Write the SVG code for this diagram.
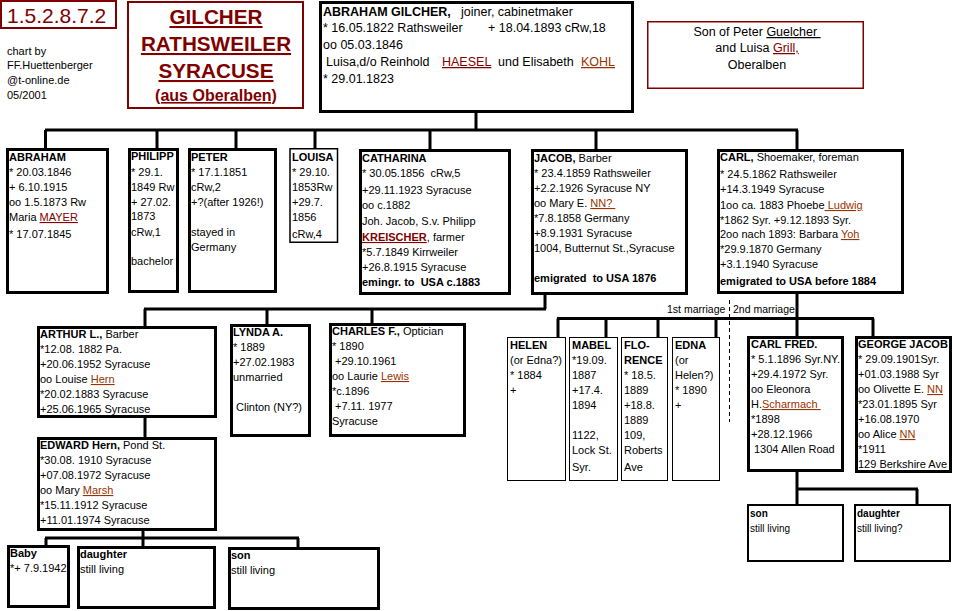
<svg xmlns="http://www.w3.org/2000/svg" width="953" height="611" viewBox="0 0 953 611">
<style>
text{font-family:"Liberation Sans",Arial,sans-serif;font-size:11px;fill:#000}
.b{font-weight:bold}
.m{font-size:12.5px}
.s{font-size:10px}
.dr{fill:#800000}
.or{fill:#993300;text-decoration:underline}
.u{text-decoration:underline}
.box{fill:#fff;stroke:#000;stroke-width:3}
.thin{fill:#fff;stroke:#000;stroke-width:1}
.rbox{fill:#fff;stroke:#800000;stroke-width:2}
.con{stroke:#000;stroke-width:3;fill:none}
.ttl{font-weight:bold;fill:#800000;text-decoration:underline;text-anchor:middle;font-size:20.7px}
</style>
<rect width="953" height="611" fill="#fff"/>

<g id="connectors">
<path class="con" d="M476,113V130M45,130H798M45.5,130V148M157,130V148M236,130V148M315,130V148M430,130V149M596,130V149M797,130V149"/>
<path class="con" d="M545,295V309M144,309H546M145,309V326M267,309V324M372,309V323M145,418V437"/>
<path class="con" d="M143,531V538M45,538H299M46,538V545M143,538V546M298,538V547"/>
<path class="con" d="M557,318.5H874M558,318.5V337M606,318.5V337M658,318.5V337M716,318.5V337M873,318.5V336M797,294V336"/>
<path class="con" d="M797,472V504M797,489H918M917,489V504"/>
<path d="M729.5,300V422" stroke="#000" stroke-width="1" stroke-dasharray="4,3" fill="none"/>
</g>

<g id="ref">
<rect x="1" y="1" width="115" height="27" fill="#fff" stroke="#800000" stroke-width="2"/>
<text x="7" y="23" class="dr" style="font-size:21px">1.5.2.8.7.2</text>
</g>

<g id="credit">
<text x="7" y="55">chart by</text>
<text x="7" y="69">FF.Huettenberger</text>
<text x="7" y="84">@t-online.de</text>
<text x="7" y="99">05/2001</text>
</g>

<g id="title">
<rect class="rbox" x="128" y="2" width="175" height="106"/>
<text x="216" y="24" class="ttl">GILCHER</text>
<text x="216" y="51" class="ttl">RATHSWEILER</text>
<text x="216" y="78" class="ttl">SYRACUSE</text>
<text x="216" y="101" class="ttl" style="font-size:16px">(aus Oberalben)</text>
</g>

<g id="abraham-gilcher">
<rect class="box" x="320.5" y="2.5" width="312" height="109"/>
<text x="323" y="16" class="m"><tspan class="b">ABRAHAM GILCHER,</tspan><tspan x="461">joiner, cabinetmaker</tspan></text>
<text x="323" y="32" class="m">* 16.05.1822 Rathsweiler<tspan x="488">+ 18.04.1893 cRw,18</tspan></text>
<text x="323" y="49" class="m">oo 05.03.1846</text>
<text x="326" y="66" class="m">Luisa,d/o Reinhold<tspan x="442" class="dr u">HAESEL</tspan><tspan x="498">und Elisabeth</tspan><tspan x="581" class="or">KOHL</tspan></text>
<text x="323" y="83" class="m">* 29.01.1823</text>
</g>

<g id="parents">
<rect x="647.75" y="21.75" width="215.5" height="66.5" fill="#fff" stroke="#800000" stroke-width="1.5"/>
<text x="757" y="36" class="m" text-anchor="middle" xml:space="preserve">Son of Peter <tspan class="u">Guelcher </tspan></text>
<text x="757" y="52" class="m" text-anchor="middle" xml:space="preserve">and Luisa <tspan class="dr u">Grill,</tspan></text>
<text x="757" y="69" class="m" text-anchor="middle">Oberalben</text>
</g>

<g id="abraham">
<rect class="box" x="7.5" y="149.5" width="100" height="143"/>
<text x="9" y="161" class="b">ABRAHAM</text>
<text x="9" y="176">* 20.03.1846</text>
<text x="9" y="191">+ 6.10.1915</text>
<text x="9" y="206">oo 1.5.1873 Rw</text>
<text x="9" y="221">Maria <tspan class="dr u">MAYER</tspan></text>
<text x="9" y="238">* 17.07.1845</text>
</g>

<g id="philipp">
<rect class="box" x="129.5" y="149.5" width="48" height="142"/>
<text x="131" y="160" class="b">PHILIPP</text>
<text x="131" y="176">* 29.1.</text>
<text x="131" y="191">1849 Rw</text>
<text x="131" y="206">+ 27.02.</text>
<text x="131" y="220">1873</text>
<text x="131" y="236">cRw,1</text>
<text x="131" y="265">bachelor</text>
</g>

<g id="peter">
<rect class="box" x="189.5" y="149.5" width="86" height="142"/>
<text x="191" y="161" class="b">PETER</text>
<text x="191" y="176">* 17.1.1851</text>
<text x="191" y="191">cRw,2</text>
<text x="191" y="206">+?(after 1926!)</text>
<text x="191" y="236">stayed in</text>
<text x="191" y="251">Germany</text>
</g>

<g id="louisa">
<rect x="290" y="148.75" width="47.5" height="93.5" fill="#fff" stroke="#000" stroke-width="1.5"/>
<text x="292" y="161" class="b">LOUISA</text>
<text x="292" y="176">* 29.10.</text>
<text x="292" y="191">1853Rw</text>
<text x="292" y="206">+29.7.</text>
<text x="292" y="221">1856</text>
<text x="292" y="238">cRw,4</text>
</g>

<g id="catharina">
<rect class="box" x="360.5" y="150.5" width="149" height="143"/>
<text x="362" y="162" class="b">CATHARINA</text>
<text x="362" y="177" xml:space="preserve">* 30.05.1856  cRw,5</text>
<text x="362" y="194">+29.11.1923 Syracuse</text>
<text x="362" y="209">oo c.1882</text>
<text x="362" y="225">Joh. Jacob, S.v. Philipp</text>
<text x="362" y="241"><tspan class="b dr u">KREISCHER</tspan>, farmer</text>
<text x="362" y="256">*5.7.1849 Kirrweiler</text>
<text x="362" y="271">+26.8.1915 Syracuse</text>
<text x="362" y="286" class="b" xml:space="preserve">emingr. to  USA c.1883</text>
</g>

<g id="jacob">
<rect class="box" x="532.5" y="150.5" width="154" height="143"/>
<text x="534" y="162"><tspan class="b">JACOB,</tspan> Barber</text>
<text x="534" y="177">* 23.4.1859 Rathsweiler</text>
<text x="534" y="192">+2.2.1926 Syracuse NY</text>
<text x="534" y="207" xml:space="preserve">oo Mary E. <tspan class="or">NN? </tspan></text>
<text x="534" y="222">*7.8.1858 Germany</text>
<text x="534" y="237">+8.9.1931 Syracuse</text>
<text x="534" y="252">1004, Butternut St.,Syracuse</text>
<text x="534" y="282" class="b" xml:space="preserve">emigrated  to USA 1876</text>
</g>

<g id="carl">
<rect class="box" x="718.5" y="150.5" width="184" height="142"/>
<text x="720" y="161"><tspan class="b">CARL,</tspan> Shoemaker, foreman</text>
<text x="720" y="178">* 24.5.1862 Rathsweiler</text>
<text x="720" y="193">+14.3.1949 Syracuse</text>
<text x="720" y="209" xml:space="preserve">1oo ca. 1883 Phoebe<tspan class="or"> Ludwig</tspan></text>
<text x="720" y="224">*1862 Syr. +9.12.1893 Syr.</text>
<text x="720" y="238">2oo nach 1893: Barbara <tspan class="or">Yoh</tspan></text>
<text x="720" y="253">*29.9.1870 Germany</text>
<text x="720" y="268">+3.1.1940 Syracuse</text>
<text x="720" y="285" class="b">emigrated to USA before 1884</text>
</g>

<g id="arthur">
<rect class="box" x="38.5" y="327.5" width="177" height="89"/>
<text x="40" y="338"><tspan class="b">ARTHUR L.,</tspan> Barber</text>
<text x="40" y="353">*12.08. 1882 Pa.</text>
<text x="40" y="368">+20.06.1952 Syracuse</text>
<text x="40" y="383">oo Louise <tspan class="or">Hern</tspan></text>
<text x="40" y="398">*20.02.1883 Syracuse</text>
<text x="40" y="413">+25.06.1965 Syracuse</text>
</g>

<g id="lynda">
<rect class="box" x="231.5" y="325.5" width="78" height="110"/>
<text x="233" y="336" class="b">LYNDA A.</text>
<text x="233" y="351">* 1889</text>
<text x="233" y="366">+27.02.1983</text>
<text x="233" y="381">unmarried</text>
<text x="236" y="411">Clinton (NY?)</text>
</g>

<g id="charles">
<rect class="box" x="330.5" y="324.5" width="134" height="111"/>
<text x="332" y="335"><tspan class="b">CHARLES F.,</tspan> Optician</text>
<text x="332" y="350">* 1890</text>
<text x="335" y="365">+29.10.1961</text>
<text x="332" y="380">oo Laurie <tspan class="or">Lewis</tspan></text>
<text x="332" y="395">*c.1896</text>
<text x="335" y="410">+7.11. 1977</text>
<text x="332" y="425">Syracuse</text>
</g>

<g id="edward">
<rect class="box" x="38.5" y="438.5" width="177" height="91"/>
<text x="40" y="449"><tspan class="b">EDWARD Hern,</tspan><tspan x="123">Pond St.</tspan></text>
<text x="40" y="464">*30.08. 1910 Syracuse</text>
<text x="40" y="479">+07.08.1972 Syracuse</text>
<text x="40" y="494">oo Mary <tspan class="or">Marsh</tspan></text>
<text x="40" y="509">*15.11.1912 Syracuse</text>
<text x="40" y="524">+11.01.1974 Syracuse</text>
</g>

<g id="baby">
<rect class="box" x="8.5" y="546.5" width="60" height="60"/>
<text x="10" y="557" class="b">Baby</text>
<text x="10" y="572">*+ 7.9.1942</text>
</g>

<g id="daughter1">
<rect class="box" x="78.5" y="547.5" width="136" height="60"/>
<text x="80" y="558" class="b">daughter</text>
<text x="80" y="573">still living</text>
</g>

<g id="son1">
<rect class="box" x="229.5" y="548.5" width="149" height="60"/>
<text x="231" y="559" class="b">son</text>
<text x="231" y="574">still living</text>
</g>

<g id="marriage-labels">
<text x="667" y="313" style="font-size:10.5px">1st marriage</text>
<text x="733" y="313" style="font-size:10.5px">2nd marriage</text>
</g>

<g id="helen">
<rect class="thin" x="507.5" y="337.5" width="58" height="143"/>
<text x="510" y="349" class="b">HELEN</text>
<text x="510" y="364">(or Edna?)</text>
<text x="510" y="379">* 1884</text>
<text x="510" y="394">+</text>
</g>

<g id="mabel">
<rect class="thin" x="569.5" y="337.5" width="48" height="143"/>
<text x="572" y="349" class="b">MABEL</text>
<text x="572" y="364">*19.09.</text>
<text x="572" y="379">1887</text>
<text x="572" y="394">+17.4.</text>
<text x="572" y="409">1894</text>
<text x="572" y="439">1122,</text>
<text x="572" y="454">Lock St.</text>
<text x="572" y="471">Syr.</text>
</g>

<g id="florence">
<rect class="thin" x="621.5" y="337.5" width="46" height="143"/>
<text x="624" y="349" class="b">FLO-</text>
<text x="624" y="364" class="b">RENCE</text>
<text x="624" y="379">* 18.5.</text>
<text x="624" y="394">1889</text>
<text x="624" y="409">+18.8.</text>
<text x="624" y="424">1889</text>
<text x="624" y="439">109,</text>
<text x="624" y="454">Roberts</text>
<text x="624" y="471">Ave</text>
</g>

<g id="edna">
<rect class="thin" x="672.5" y="337.5" width="47" height="143"/>
<text x="675" y="349" class="b">EDNA</text>
<text x="675" y="364">(or</text>
<text x="675" y="379">Helen?)</text>
<text x="675" y="394">* 1890</text>
<text x="675" y="409">+</text>
</g>

<g id="carl-fred">
<rect class="box" x="748.5" y="337.5" width="94" height="133"/>
<text x="751" y="348" class="b">CARL FRED.</text>
<text x="751" y="363">* 5.1.1896 Syr.NY.</text>
<text x="751" y="378">+29.4.1972 Syr.</text>
<text x="751" y="393">oo Eleonora</text>
<text x="751" y="408" xml:space="preserve">H.<tspan class="or">Scharmach </tspan></text>
<text x="751" y="423">*1898</text>
<text x="751" y="438">+28.12.1966</text>
<text x="754" y="453">1304 Allen Road</text>
</g>

<g id="george-jacob">
<rect class="box" x="856.5" y="337.5" width="94" height="134"/>
<text x="858" y="348" class="b">GEORGE JACOB</text>
<text x="858" y="363">* 29.09.1901Syr.</text>
<text x="858" y="378">+01.03.1988 Syr</text>
<text x="858" y="393">oo Olivette E. <tspan class="or">NN</tspan></text>
<text x="858" y="408">*23.01.1895 Syr</text>
<text x="858" y="423">+16.08.1970</text>
<text x="858" y="438">oo Alice <tspan class="or">NN</tspan></text>
<text x="858" y="453">*1911</text>
<text x="858" y="468">129 Berkshire Ave</text>
</g>

<g id="son2">
<rect x="748" y="505" width="95" height="56" fill="#fff" stroke="#000" stroke-width="2"/>
<text x="750" y="517" class="b s">son</text>
<text x="750" y="532" class="s">still living</text>
</g>

<g id="daughter2">
<rect x="855" y="505" width="95" height="56" fill="#fff" stroke="#000" stroke-width="2"/>
<text x="857" y="517" class="b s">daughter</text>
<text x="857" y="532" class="s">still living?</text>
</g>
</svg>
